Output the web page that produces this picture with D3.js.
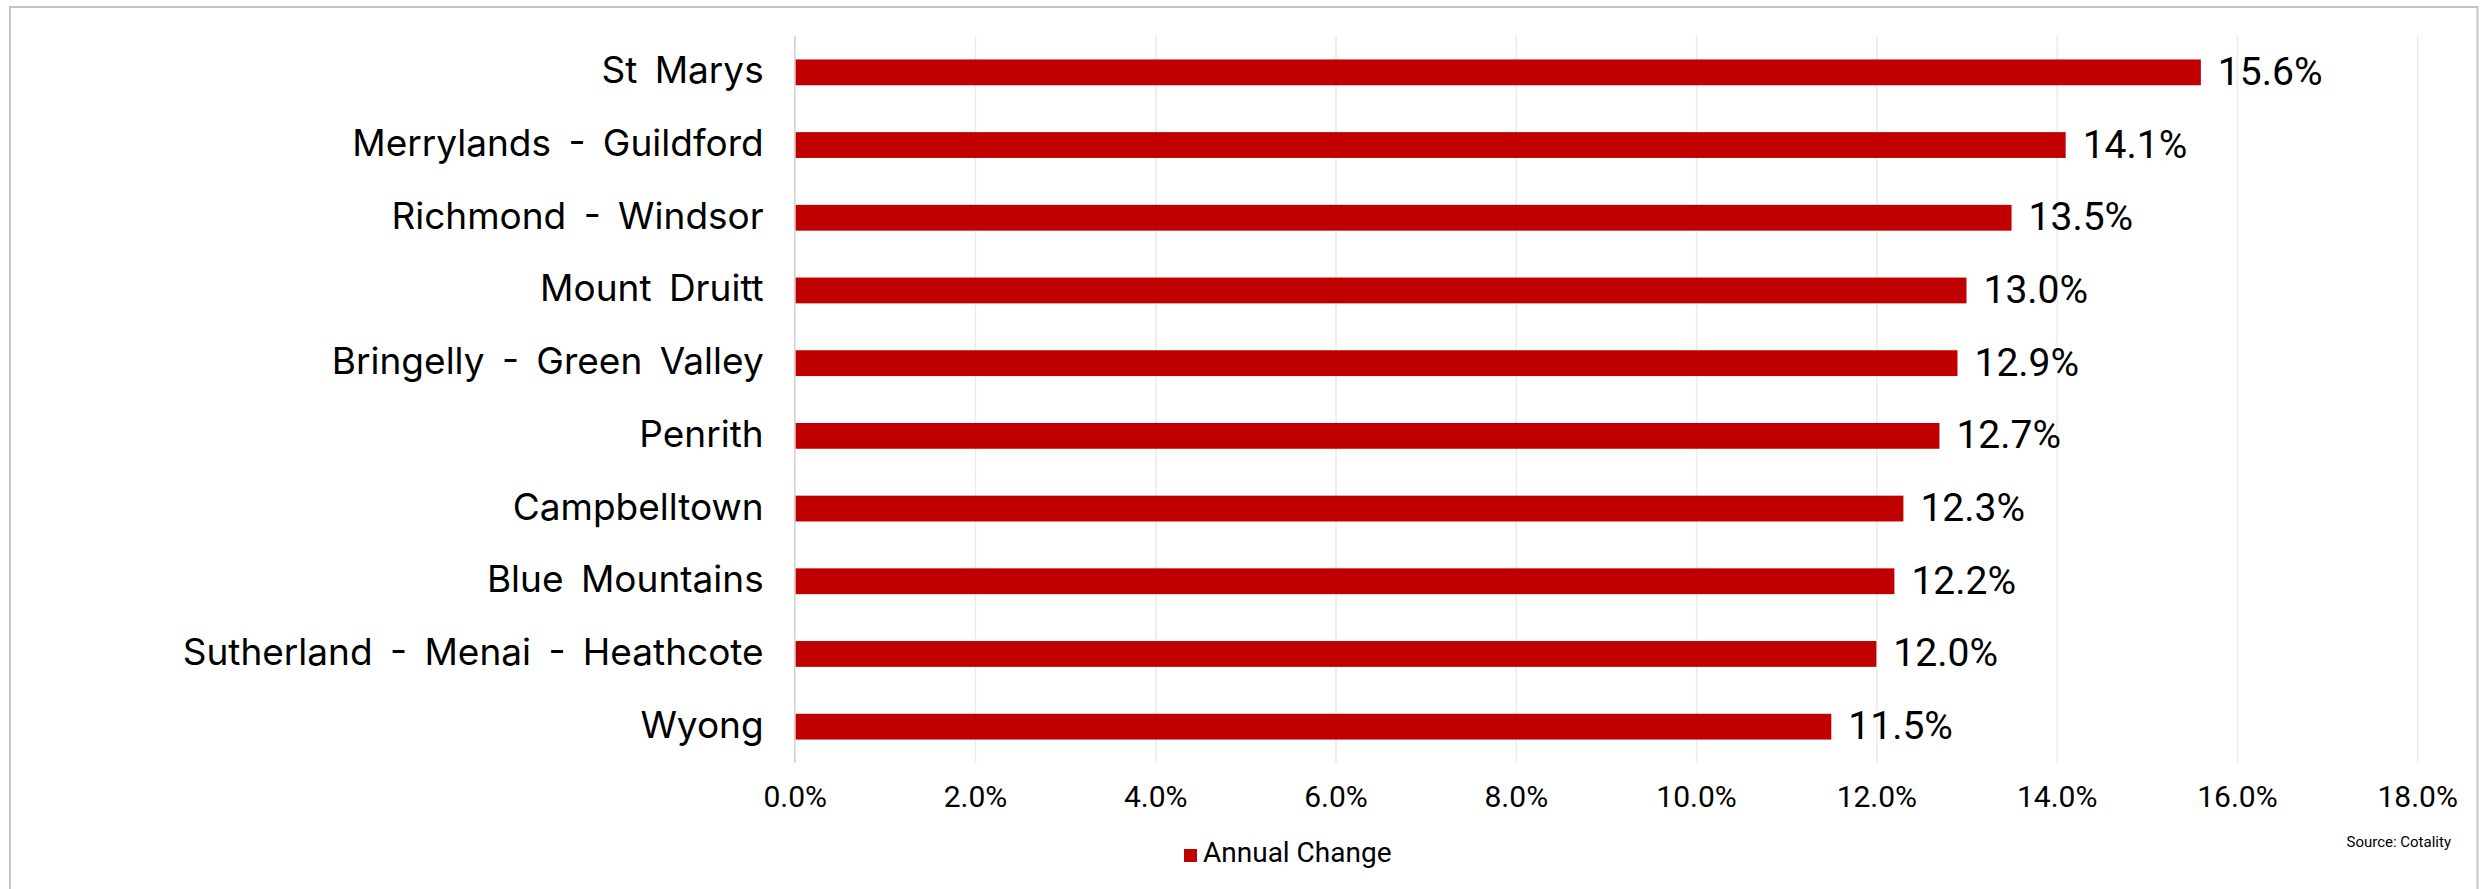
<!DOCTYPE html>
<html>
<head>
<meta charset="utf-8">
<script src="https://cdn.jsdelivr.net/npm/d3@7"></script>
<style>
  html, body { margin: 0; padding: 0; background: #ffffff; }
  svg { display: block; }
  text { font-family: Roboto, "Liberation Sans", sans-serif; fill: #000; }
  .cat { font-family: Inter, Roboto, "Liberation Sans", sans-serif; word-spacing: 7px; }
</style>
</head>
<body>
<svg id="chart" width="2481" height="889"></svg>
<script>
// ---- data ----
const categories = [
  "St Marys",
  "Merrylands - Guildford",
  "Richmond - Windsor",
  "Mount Druitt",
  "Bringelly - Green Valley",
  "Penrith",
  "Campbelltown",
  "Blue Mountains",
  "Sutherland - Menai - Heathcote",
  "Wyong"
];
const annualChange = [15.6, 14.1, 13.5, 13.0, 12.9, 12.7, 12.3, 12.2, 12.0, 11.5];
const xTicks = [0, 2, 4, 6, 8, 10, 12, 14, 16, 18];
const seriesName = "Annual Change";
const sourceText = "Source: Cotality";

// ---- layout ----
const plot = { left: 794.7, right: 2417.2, top: 36, bottom: 763 };
const barColor = "#c00000";

const svg = d3.select("#chart");

// outer frame
svg.append("rect")
  .attr("x", 10).attr("y", 7)
  .attr("width", 2467.5).attr("height", 920)
  .attr("fill", "none")
  .attr("stroke", "#c4c4c4")
  .attr("stroke-width", 2);

const x = d3.scaleLinear().domain([0, 18]).range([plot.left, plot.right]);
const y = d3.scaleBand()
  .domain(categories)
  .range([plot.top, plot.bottom])
  .paddingInner(0.645)
  .paddingOuter(0.3225);

// gridlines + tick labels via axis
const xAxis = d3.axisBottom(x)
  .tickValues(xTicks)
  .tickSize(-(plot.bottom - plot.top))
  .tickFormat(d => d3.format(".1f")(d) + "%");

const gx = svg.append("g")
  .attr("transform", `translate(0,${plot.bottom})`)
  .call(xAxis);
gx.select(".domain").remove();
gx.selectAll(".tick line")
  .attr("stroke", "#ebebeb")
  .attr("stroke-width", 1.5);
gx.selectAll(".tick text")
  .attr("y", 44)
  .attr("dy", null)
  .attr("font-size", 30)
  .attr("text-anchor", "middle")
  .attr("fill", "#000");

// vertical category axis line at 0
svg.append("line")
  .attr("x1", x(0)).attr("x2", x(0))
  .attr("y1", plot.top).attr("y2", plot.bottom)
  .attr("stroke", "#d4d4d4")
  .attr("stroke-width", 1.5);

// bars
svg.append("g").selectAll("rect")
  .data(categories)
  .join("rect")
  .attr("x", x(0) + 1)
  .attr("y", d => y(d))
  .attr("width", (d, i) => x(annualChange[i]) - x(0) - 1)
  .attr("height", y.bandwidth())
  .attr("fill", barColor);

// category labels
svg.append("g").selectAll("text")
  .data(categories)
  .join("text")
  .attr("class", "cat")
  .attr("x", x(0) - 31)
  .attr("y", d => y(d) + y.bandwidth() / 2 + 11)
  .attr("text-anchor", "end")
  .attr("font-size", 37)
  .text(d => d);

// value labels
svg.append("g").selectAll("text")
  .data(categories)
  .join("text")
  .attr("x", (d, i) => x(annualChange[i]) + 17)
  .attr("y", d => y(d) + y.bandwidth() / 2 + 12.5)
  .attr("text-anchor", "start")
  .attr("font-size", 39)
  .text((d, i) => d3.format(".1f")(annualChange[i]) + "%");

// legend
const lg = svg.append("g");
lg.append("rect")
  .attr("x", 1184).attr("y", 849)
  .attr("width", 13).attr("height", 13)
  .attr("fill", barColor);
lg.append("text")
  .attr("x", 1203).attr("y", 862)
  .attr("font-size", 28)
  .text(seriesName);

// source
svg.append("text")
  .attr("x", 2451).attr("y", 847)
  .attr("text-anchor", "end")
  .attr("font-size", 15)
  .attr("fill", "#222")
  .text(sourceText);
</script>
</body>
</html>
